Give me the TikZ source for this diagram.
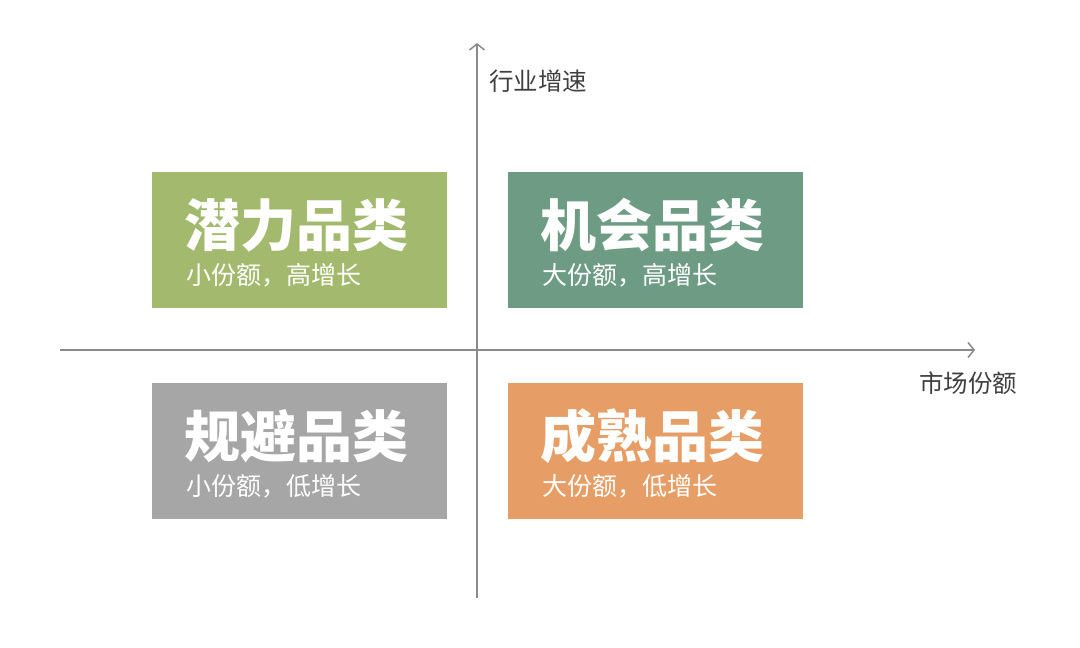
\documentclass[tikz,border=0pt]{standalone}
\usepackage{fontspec}
\usetikzlibrary{arrows.meta}
\newfontfamily\cjk{Noto Sans CJK SC}
\definecolor{cgreen}{HTML}{A3BA6E}
\definecolor{cteal}{HTML}{6E9B84}
\definecolor{cgrey}{HTML}{A6A6A6}
\definecolor{corange}{HTML}{E69E66}
\definecolor{caxis}{HTML}{8A8A8A}
\definecolor{clabel}{HTML}{404040}
\tikzset{
  quad/.style={inner sep=0pt, outer sep=0pt, minimum width=295pt, minimum height=136pt, anchor=north west},
  ttl/.style={inner sep=0pt, anchor=west, text=white, font=\cjk\bfseries\fontsize{56pt}{60pt}\selectfont},
  sub/.style={inner sep=0pt, anchor=west, text=white, font=\cjk\fontsize{25pt}{28pt}\selectfont},
  axis/.style={draw=caxis, line width=1.5pt, -{Straight Barb[length=6pt,width=15pt,line width=1.5pt]}},
  axlabel/.style={inner sep=0pt, anchor=west, text=clabel, font=\cjk\fontsize{24.5pt}{28pt}\selectfont}
}
\begin{document}
\begin{tikzpicture}[x=1pt,y=-1pt]
\useasboundingbox (0,0) rectangle (1080,648);
% quadrant boxes
\node[quad, fill=cgreen] (q1) at (152,172) {};
\node[quad, fill=cteal] (q2) at (508,172) {};
\node[quad, fill=cgrey] (q3) at (152,383) {};
\node[quad, fill=corange] (q4) at (508,383) {};
% titles
\node[ttl] (t1) at (184,225) {潜力品类};
\node[sub] (s1) at (186,275.5) {小份额，高增长};
\node[ttl] (t2) at (540,225) {机会品类};
\node[sub] (s2) at (542,275.5) {大份额，高增长};
\node[ttl] (t3) at (184,436) {规避品类};
\node[sub] (s3) at (186,486.5) {小份额，低增长};
\node[ttl] (t4) at (540,436) {成熟品类};
\node[sub] (s4) at (542,486.5) {大份额，低增长};
% axes
\coordinate (xs) at (60,350);
\coordinate (xe) at (975,350);
\coordinate (ys) at (477,598);
\coordinate (ye) at (477,43);
\draw[axis] (xs) -- (xe);
\draw[axis] (ys) -- (ye);
\node[axlabel] (ly) at (489,81) {行业增速};
\node[axlabel] (lx) at (919,383) {市场份额};
\end{tikzpicture}
\end{document}
